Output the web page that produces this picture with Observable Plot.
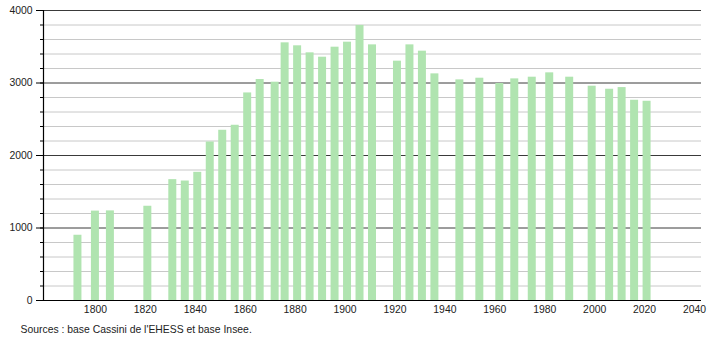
<!DOCTYPE html>
<html>
<head>
<meta charset="utf-8">
<script src="https://cdn.jsdelivr.net/npm/d3@7"></script>
<script src="https://cdn.jsdelivr.net/npm/@observablehq/plot@0.6"></script>
<style>
  html, body { margin: 0; padding: 0; background: #fff; }
  #chart svg { display: block; }
</style>
</head>
<body>
<div id="chart"></div>
<script>
const years = [1793, 1800, 1806, 1821, 1831, 1836, 1841, 1846, 1851, 1856, 1861, 1866, 1872, 1876, 1881, 1886, 1891, 1896, 1901, 1906, 1911, 1921, 1926, 1931, 1936, 1946, 1954, 1962, 1968, 1975, 1982, 1990, 1999, 2006, 2011, 2016, 2021];
const population = [900, 1233, 1236, 1300, 1667, 1648, 1768, 2186, 2348, 2417, 2863, 3048, 3011, 3554, 3513, 3416, 3356, 3494, 3563, 3794, 3526, 3301, 3526, 3439, 3126, 3043, 3066, 2993, 3057, 3080, 3140, 3080, 2956, 2914, 2937, 2762, 2748];
const xTicks = [1800, 1820, 1840, 1860, 1880, 1900, 1920, 1940, 1960, 1980, 2000, 2020, 2040];
const yMajor = [0, 1000, 2000, 3000, 4000];
const yMinor = d3.range(0, 4001, 200);
const caption = "Sources : base Cassini de l'EHESS et base Insee.";

const data = years.map((y, i) => ({year: y, pop: population[i]}));
const halfBar = 1.6;
const xMin = 1779.2, xMax = 2042.8;

const chart = Plot.plot({
  width: 710,
  height: 340,
  marginLeft: 43,
  marginRight: 9,
  marginTop: 10,
  marginBottom: 40,
  style: {fontFamily: "'Liberation Sans', Arial, sans-serif", fontSize: "10.4px", color: "#222", background: "#fff"},
  x: {domain: [xMin, xMax], label: null},
  y: {domain: [0, 4000], label: null},
  marks: [
    Plot.ruleY(yMinor.filter(v => v % 1000 !== 0), {stroke: "#c8c8c8", strokeWidth: 1}),
    Plot.ruleY(yMajor.filter(v => v > 0), {stroke: "#3a3a3a", strokeWidth: 1}),
    Plot.rectY(data, {x1: d => d.year - halfBar, x2: d => d.year + halfBar, y1: 0, y2: "pop", fill: "#b0e4b0"}),
    Plot.axisY(yMinor, {tickSize: 3, tickFormat: () => "", stroke: "#000"}),
    Plot.axisY(yMajor, {tickSize: 7, tickPadding: 4, tickFormat: d => String(d), stroke: "#000", fill: "#222"}),
    Plot.axisX(xTicks, {tickSize: 0, tickPadding: 5, tickFormat: d => String(d), fill: "#222"}),
    Plot.ruleX([xMin], {stroke: "#000", strokeWidth: 1.2}),
    Plot.ruleY([0], {stroke: "#000", strokeWidth: 1.2}),
    Plot.text([caption], {frameAnchor: "bottom-left", dx: -23, dy: 32, textAnchor: "start", fill: "#222", fontSize: 10.4})
  ]
});
document.getElementById("chart").appendChild(chart);
</script>
</body>
</html>
